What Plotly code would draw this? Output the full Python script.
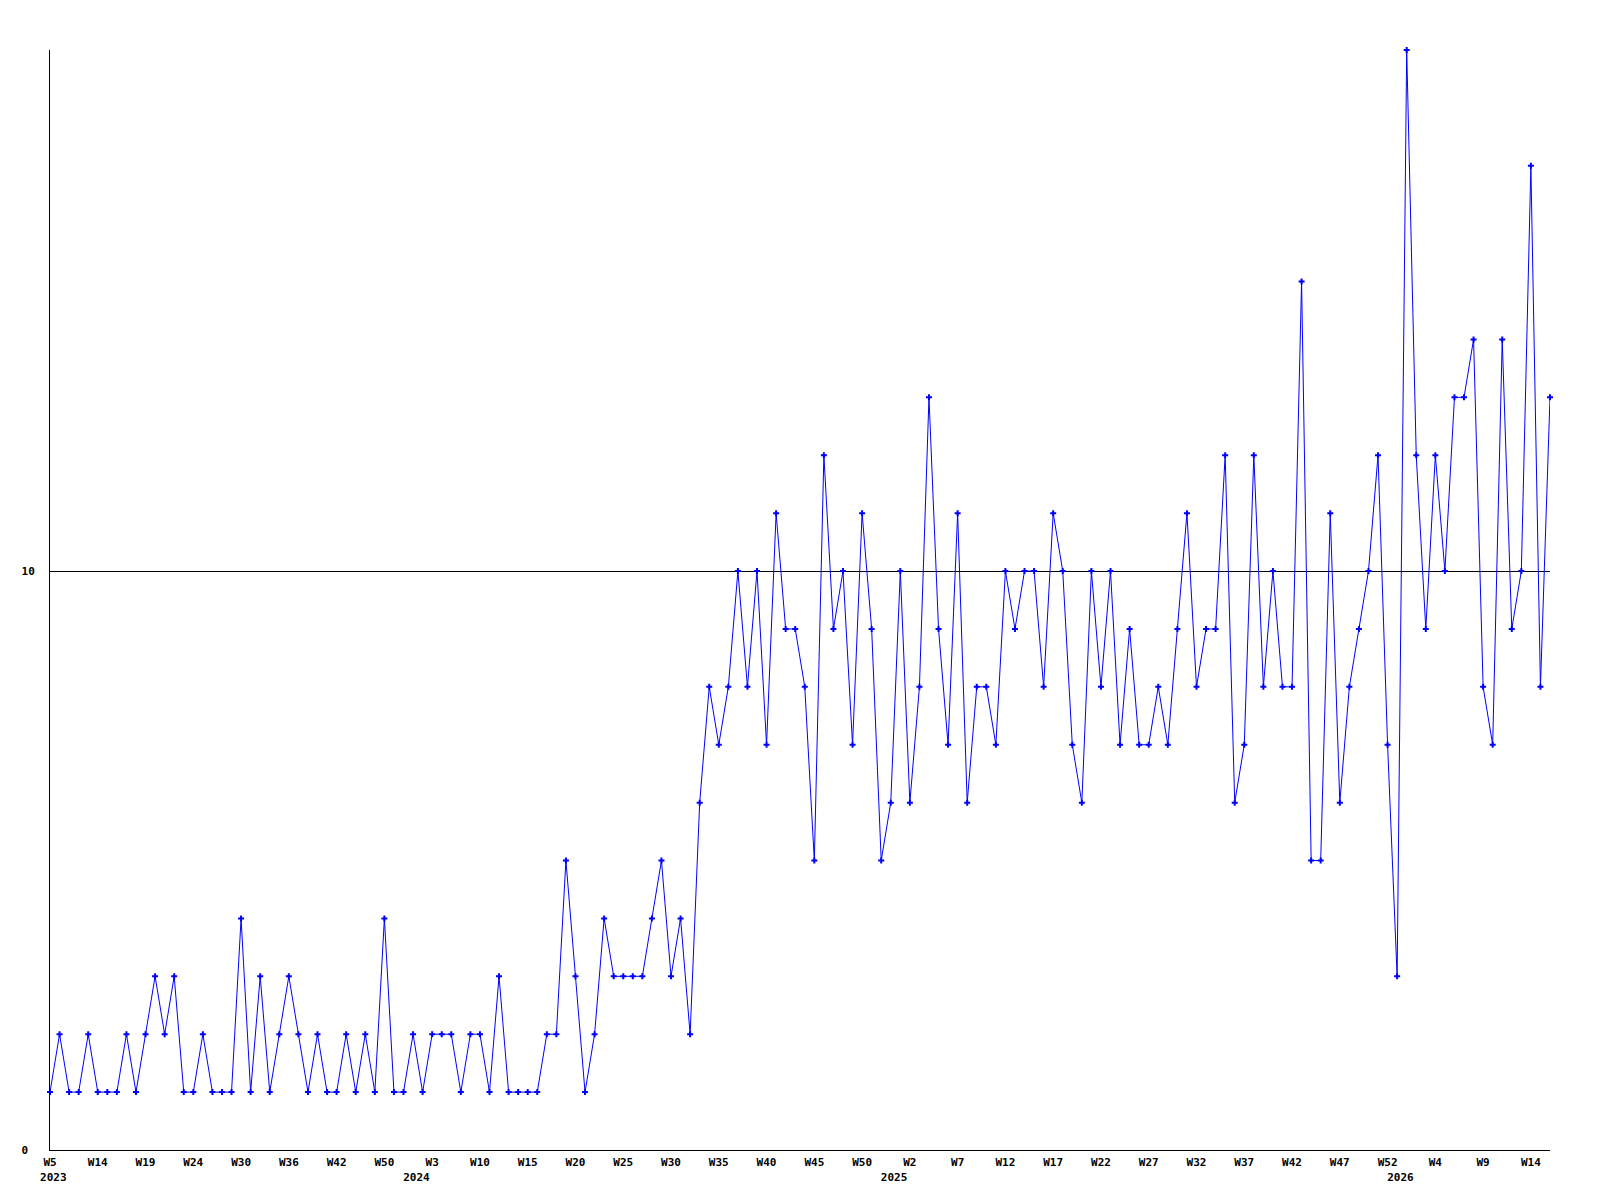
import plotly.graph_objects as go

# Weekly values, 2023 W5 .. 2026 W16 (one value per point)
values = [
    1, 2, 1, 1, 2, 1, 1, 1, 2, 1,
    2, 3, 2, 3, 1, 1, 2, 1, 1, 1,
    4, 1, 3, 1, 2, 3, 2, 1, 2, 1,
    1, 2, 1, 2, 1, 4, 1, 1, 2, 1,
    2, 2, 2, 1, 2, 2, 1, 3, 1, 1,
    1, 1, 2, 2, 5, 3, 1, 2, 4, 3,
    3, 3, 3, 4, 5, 3, 4, 2, 6, 8,
    7, 8, 10, 8, 10, 7, 11, 9, 9, 8,
    5, 12, 9, 10, 7, 11, 9, 5, 6, 10,
    6, 8, 13, 9, 7, 11, 6, 8, 8, 7,
    10, 9, 10, 10, 8, 11, 10, 7, 6, 10,
    8, 10, 7, 9, 7, 7, 8, 7, 9, 11,
    8, 9, 9, 12, 6, 7, 12, 8, 10, 8,
    8, 15, 5, 5, 11, 6, 8, 9, 10, 12,
    7, 3, 19, 12, 9, 12, 10, 13, 13, 14,
    8, 7, 14, 9, 10, 17, 8, 13,
]

# Week labels shown every 5th point
week_labels = [
    "W5", "W14", "W19", "W24", "W30", "W36", "W42", "W50",
    "W3", "W10", "W15", "W20", "W25", "W30", "W35", "W40",
    "W45", "W50", "W2", "W7", "W12", "W17", "W22", "W27",
    "W32", "W37", "W42", "W47", "W52", "W4", "W9", "W14",
]
label_step = 5

# Year labels and the point index of each year's first week
years = ["2023", "2024", "2025", "2026"]
year_start_index = [0, 38, 88, 141]

y_ticks = [0, 10]
y_tick_labels = ["0\u00a0", "10"]

x = list(range(len(values)))
FONT = dict(family="DejaVu Sans Mono", size=11, color="black", weight="bold")

fig = go.Figure()
fig.add_trace(go.Scatter(
    x=x, y=values, mode="lines+markers",
    line=dict(color="#0000ff", width=1),
    marker=dict(symbol="cross", size=5, color="#0000ff", line=dict(width=0)),
    cliponaxis=False, showlegend=False, hoverinfo="skip",
))
# invisible trace to anchor the year axis
fig.add_trace(go.Scatter(x=[x[0], x[-1]], y=[0, 0], xaxis="x2", mode="markers",
                         marker=dict(opacity=0), showlegend=False, hoverinfo="skip"))

xr = [x[0], x[-1]]
year_shift = 0.35  # year captions sit a few pixels right of their week
fig.update_layout(
    width=1600, height=1200,
    margin=dict(l=42, r=58, t=42, b=58, pad=0),
    paper_bgcolor="white", plot_bgcolor="white",
    font=FONT,
    xaxis=dict(
        range=xr, showgrid=False, zeroline=False,
        showline=True, linecolor="black", linewidth=1,
        ticks="", tickmode="array",
        tickvals=x[::label_step], ticktext=week_labels,
        tickfont=FONT, ticklabelstandoff=2,
    ),
    xaxis2=dict(
        range=[xr[0] - year_shift, xr[1] - year_shift], overlaying="x",
        side="bottom", anchor="y",
        showgrid=False, zeroline=False, showline=False, ticks="",
        tickmode="array", tickvals=year_start_index, ticktext=years,
        tickfont=FONT, ticklabelstandoff=19,
    ),
    yaxis=dict(
        range=[0, 19], showgrid=True, gridcolor="black", gridwidth=1,
        zeroline=False, showline=True, linecolor="black", linewidth=1,
        ticks="", tickmode="array", tickvals=y_ticks, ticktext=y_tick_labels,
        tickfont=FONT, ticklabelstandoff=12,
    ),
)

fig.write_html("out.html")
